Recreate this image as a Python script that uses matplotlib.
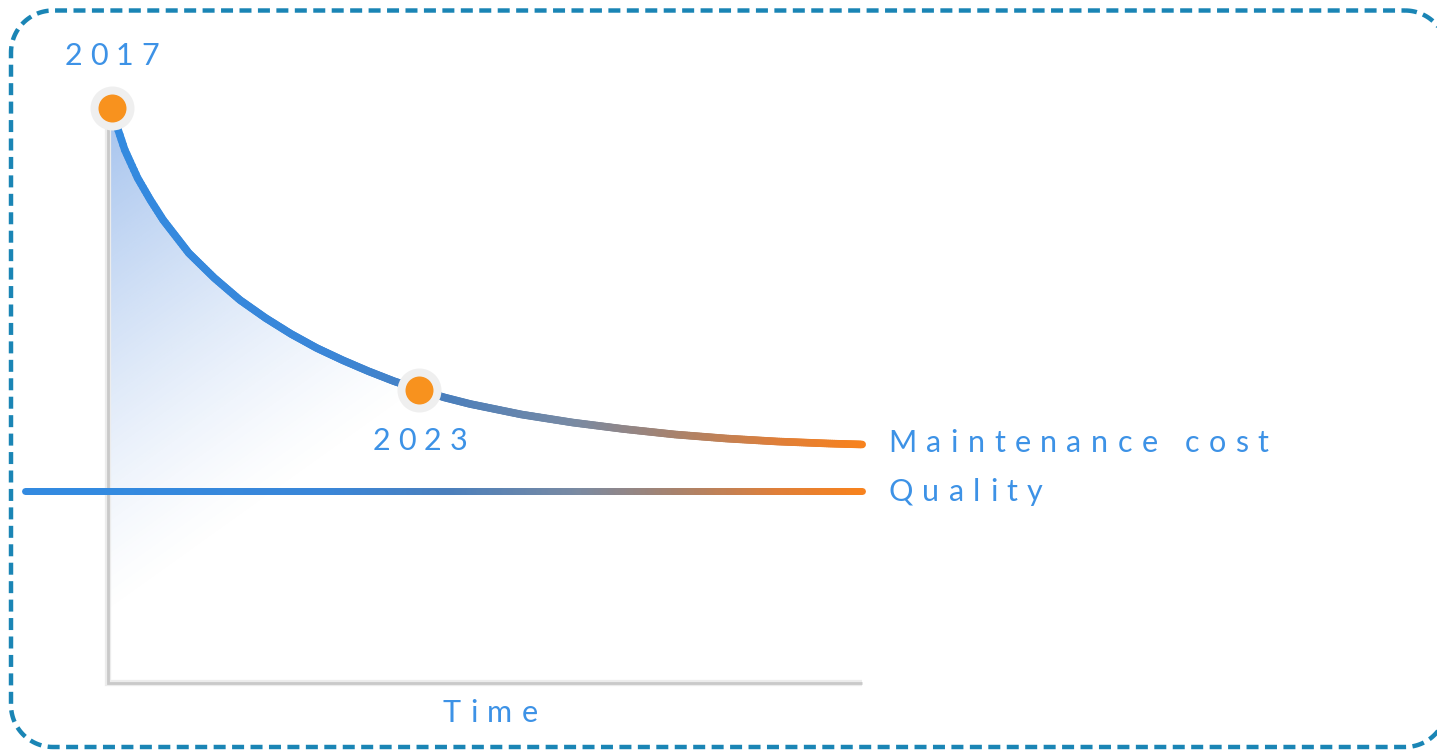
import numpy as np
import matplotlib
matplotlib.use('Agg')
import matplotlib.pyplot as plt
from matplotlib.collections import LineCollection
from matplotlib.colors import LinearSegmentedColormap, to_rgb
from matplotlib.patches import Polygon
from matplotlib.font_manager import FontProperties
import matplotlib.transforms as mtransforms

# ---------------- data ----------------
years = [2017.0, 2017.12, 2017.25, 2017.5, 2017.75, 2018.0, 2018.5, 2019.0,
         2019.5, 2020.0, 2020.5, 2021.0, 2021.5, 2022.0, 2022.5, 2023.0,
         2023.5, 2024.0, 2025.0, 2026.0, 2027.0, 2028.0, 2029.0, 2030.0,
         2031.0, 2031.66]
maintenance_cost = [100.0, 96.17, 92.70, 87.83, 84.00, 80.52, 74.78, 70.43,
                    66.61, 63.48, 60.70, 58.26, 56.17, 54.26, 52.52, 51.0,
                    49.65, 48.52, 46.70, 45.30, 44.17, 43.22, 42.52, 42.00,
                    41.65, 41.48]
quality_years = [2015.30, 2031.66]
quality = [33.4, 33.4]
highlight_years = [2017, 2023]
highlight_cost = [100.0, 51.0]
highlight_labels = ['2017', '2023']
series_labels = ['Maintenance cost', 'Quality']
x_label = 'Time'

# plot frame (time axis start/end, value floor)
X0, X1 = 2016.92, 2031.66

W, H = 1437, 752
fig = plt.figure(figsize=(W / 100, H / 100), dpi=100)
fig.patch.set_facecolor('white')
ax = fig.add_axes([0, 0, 1, 1])
ax.axis('off')

TEXT_C = '#3d92e6'
cmap = LinearSegmentedColormap.from_list('bo', [
    (0.0, '#338ae0'), (0.294, '#3a86d8'), (0.454, '#4b7fbc'),
    (0.626, '#7a8aa2'), (0.759, '#a9826c'), (0.891, '#df7f3a'),
    (1.0, '#f7821e')])

# ---------------- gradient fill under the curve ----------------
nx, ny = 400, 400
u = np.linspace(0, 1, nx)[None, :]
v = np.linspace(0, 1, ny)[:, None]
f = np.clip(1 - 1.12 * v - 1.05 * u, 0, 1)
img = np.zeros((ny, nx, 4))
img[..., :3] = to_rgb('#4a86dc')
img[..., 3] = 0.5 * f ** 1.3
im = ax.imshow(img, extent=(X0, X1, 0, 100), origin='upper', aspect='auto',
               zorder=1, interpolation='bilinear')
poly_xy = np.column_stack([[X0] + years + [years[-1], X0],
                           [maintenance_cost[0]] + maintenance_cost + [0, 0]])
poly = Polygon(poly_xy, closed=True, facecolor='none', edgecolor='none')
ax.add_patch(poly)
im.set_clip_path(poly)

ax.set_xlim(2014.811, 2042.894)
ax.set_ylim(-12.0, 118.78)

# ---------------- axis lines ----------------
ax.plot([X0, X0, X1], [100, 0, 0], color='#ececec', lw=4.5, zorder=2,
        solid_joinstyle='miter', solid_capstyle='butt')
ax.plot([X0, X0, X1], [100, 0, 0], color='#c9c9c9', lw=2.0, zorder=2,
        solid_joinstyle='miter', solid_capstyle='butt')


def gradient_line(xs, ys, lw, z):
    """Colour a polyline by its horizontal position (rendering only)."""
    xs = np.asarray(xs, float)
    ys = np.asarray(ys, float)
    segs, cols = [], []
    for i in range(len(xs) - 1):
        n = max(3, int(np.ceil(abs(xs[i + 1] - xs[i]) / 0.04)) + 1)
        t = np.linspace(0, 1, n)
        px = xs[i] + (xs[i + 1] - xs[i]) * t
        py = ys[i] + (ys[i + 1] - ys[i]) * t
        for k in range(len(t) - 1):
            segs.append([(px[k], py[k]), (px[k + 1], py[k + 1])])
            mid = 0.5 * (px[k] + px[k + 1])
            cols.append(cmap(np.clip((mid - X0) / (X1 - X0), 0, 1)))
    lc = LineCollection(segs, colors=cols, linewidths=lw, zorder=z,
                        capstyle='round', joinstyle='round')
    ax.add_collection(lc)


gradient_line(quality_years, quality, 5.0, 3)
gradient_line(years, maintenance_cost, 5.5, 4)

# ---------------- highlight dots ----------------
ax.scatter(highlight_years, highlight_cost, s=1004, c='#efefef', zorder=5,
           linewidths=0)
ax.scatter(highlight_years, highlight_cost, s=406, c='#f8921e', zorder=6,
           linewidths=0)

# ---------------- letter-spaced text ----------------
fp = FontProperties(family=['Lato', 'DejaVu Sans'], size=22, weight='normal')
renderer = fig.canvas.get_renderer()


def tw(s):
    w, h, d = renderer.get_text_width_height_descent(s, fp, ismath=False)
    return w


def spaced_text(x, y, s, dx, dy, ha, spacing=9.5):
    ref = tw('M')
    offs = [tw(s[:i] + 'M') - ref for i in range(len(s))]
    total = tw(s) + spacing * (len(s) - 1)
    start = {'left': 0, 'center': -total / 2, 'right': -total}[ha]
    for i, ch in enumerate(s):
        if ch == ' ':
            continue
        tr = mtransforms.offset_copy(ax.transData, fig=fig,
                                     x=dx + start + offs[i] + i * spacing,
                                     y=dy, units='dots')
        ax.text(x, y, ch, transform=tr, fontproperties=fp, color=TEXT_C,
                ha='left', va='baseline', zorder=7)


spaced_text(highlight_years[0], highlight_cost[0], highlight_labels[0], 0, 43, 'center', 8)
spaced_text(highlight_years[1], highlight_cost[1], highlight_labels[1], 1, -60, 'center', 8)
spaced_text(years[-1], maintenance_cost[-1], series_labels[0], 26, -8, 'left')
spaced_text(quality_years[-1], quality[-1], series_labels[1], 26, -10, 'left')
spaced_text((X0 + X1) / 2, 0, x_label, 5, -39, 'center')

# ---------------- dashed rounded border (pixel space) ----------------
bax = fig.add_axes([0, 0, 1, 1], zorder=10)
bax.set_xlim(0, W)
bax.set_ylim(H, 0)
bax.axis('off')
bax.patch.set_alpha(0)
L, R, T, B, r = 11.0, 1447.0, 10.5, 747.0, 42.0
bx, by = [], []
def _arc(cx, cy, a0, a1):
    th = np.radians(np.linspace(a0, a1, 30))
    bx.extend(cx + r * np.cos(th))
    by.extend(cy + r * np.sin(th))
_arc(R - r, T + r, -90, 0)
_arc(R - r, B - r, 0, 90)
_arc(L + r, B - r, 90, 180)
_arc(L + r, T + r, 180, 270)
bx.append(bx[0]); by.append(by[0])
bax.plot(bx, by, color='#1a85b5', lw=3.2, linestyle=(0, (2.7, 1.45)),
         solid_capstyle='butt', dash_capstyle='butt', clip_on=False)

fig.savefig('out.png', dpi=100, facecolor='white')
